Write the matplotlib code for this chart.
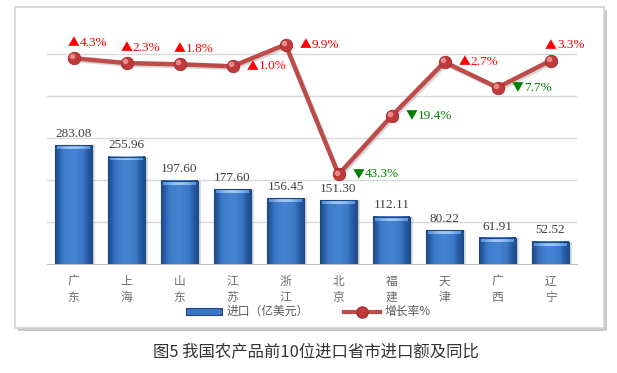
import numpy as np
import matplotlib.pyplot as plt
import matplotlib.patches as mpatches
from matplotlib.lines import Line2D
from matplotlib.colors import LinearSegmentedColormap
from matplotlib.offsetbox import TextArea, HPacker, AnnotationBbox

plt.rcParams['font.family'] = ['Noto Sans CJK SC', 'DejaVu Sans']

provinces = ['广东', '上海', '山东', '江苏', '浙江', '北京', '福建', '天津', '广西', '辽宁']
imports = [283.08, 255.96, 197.60, 177.60, 156.45, 151.30, 112.11, 80.22, 61.91, 52.52]
growth = [4.3, 2.3, 1.8, 1.0, 9.9, -43.3, -19.4, 2.7, -7.7, 3.3]
# where each growth label sits relative to its point
label_pos = ['top', 'top', 'top', 'right', 'right', 'right', 'right', 'right', 'right', 'top']

fig = plt.figure(figsize=(6.17, 3.73), dpi=100)

# outer frame with shadow
shadow = mpatches.Rectangle((0.0243 + 0.005, 0.1206 - 0.008), 0.9546, 0.8606,
                            transform=fig.transFigure, facecolor='#c8c8c8',
                            edgecolor='none', zorder=-2)
frame = mpatches.Rectangle((0.0243, 0.1206), 0.9546, 0.8606,
                           transform=fig.transFigure, facecolor='white',
                           edgecolor='#d4d4d4', lw=1.2, zorder=-1)
fig.patches.extend([shadow, frame])

ax = fig.add_axes([0.0762, 0.292, 0.859, 0.622])
ax.patch.set_alpha(0)
x = np.arange(len(provinces))
w = 0.68

# bars drawn as gradient images
grad = np.array([[0.0, 0.45, 0.8, 1.0, 0.95, 0.7, 0.35, 0.0]])
cmap = LinearSegmentedColormap.from_list('b', ['#1f4f92', '#3a77c6', '#4584d2'])
cmap_top = LinearSegmentedColormap.from_list('t', ['#5b96dd', '#9cc6f2'])
for xi, v in zip(x, imports):
    ax.bar(xi + 0.06, v, w, color='#9a9a9a', alpha=0.35, zorder=1, lw=0)
    ax.imshow(grad, cmap=cmap, aspect='auto', interpolation='bicubic',
              extent=(xi - w / 2, xi + w / 2, 0, v), zorder=2)
    ax.imshow(np.array([[0.2, 0.8, 1.0, 1.0, 0.8, 0.2]]), cmap=cmap_top,
              aspect='auto', interpolation='bicubic',
              extent=(xi - w / 2 + 0.03, xi + w / 2 - 0.03, v - 9, v), zorder=2.5)
    ax.bar(xi, v, w, facecolor='none', edgecolor='#1c467f', lw=0.8, zorder=3)
    ax.annotate(f'{v:.2f}', (xi, v), xytext=(0, 4), textcoords='offset points',
                ha='center', va='bottom', fontsize=9.5, color='#404040',
                family=['Liberation Serif', 'DejaVu Serif'])

ax.set_xlim(-0.5, len(provinces) - 0.5)
ax.set_ylim(0, 552)
ax.set_yticks(np.arange(100, 501, 100))
ax.yaxis.grid(True, color='#d9d9d9', lw=1)
ax.set_axisbelow(True)
ax.set_xticks(x)
ax.set_xticklabels(['\n'.join(p) for p in provinces], linespacing=1.3)
for s in ['top', 'right', 'left']:
    ax.spines[s].set_visible(False)
ax.spines['bottom'].set_color('#bfbfbf')

ax2 = ax.twinx()
ax2.set_ylim(-80, 15)
ax2.plot(x + 0.03, np.array(growth) - 0.8, color='#999999', lw=3, alpha=0.4, zorder=1)
ax2.plot(x, growth, color='#bd4b48', lw=3.2, marker='o', markersize=9,
         markerfacecolor='#c0393b', markeredgecolor='#a02c2e', markeredgewidth=0.6,
         zorder=3)
ax2.plot(x - 0.03, np.array(growth) + 0.8, ls='none', marker='o', markersize=3,
         color='#e88a8a', zorder=4)
for s in ax2.spines.values():
    s.set_visible(False)

ax.tick_params(axis='y', left=False, right=False, labelleft=False, labelright=False)
ax.tick_params(axis='x', length=0, pad=8, labelsize=8.5, labelcolor='#6b6b6b')
ax2.tick_params(axis='y', left=False, right=False, labelleft=False, labelright=False)

for xi, g, pos in zip(x, growth, label_pos):
    sym = '▲' if g >= 0 else '▼'
    col = 'red' if g >= 0 else 'green'
    tri = TextArea(sym, textprops=dict(color=col, size=8.5, family='Noto Sans CJK SC'))
    num = TextArea(f'{abs(g):.1f}%', textprops=dict(color=col, size=9.5,
                                                  family='Liberation Serif'))
    box = HPacker(children=[tri, num], align='center', pad=0, sep=0.5)
    if pos == 'top':
        off, align = (10, 11), (0.5, 0.5)
    else:
        off, align = (10, 0), (0.0, 0.5)
    ab = AnnotationBbox(box, (xi, g), xybox=off, xycoords='data',
                        boxcoords='offset points', box_alignment=align,
                        frameon=False, pad=0)
    ax2.add_artist(ab)

bar_handle = mpatches.Patch(facecolor='#3a77c6', edgecolor='#1c467f', lw=0.8)
line_handle = Line2D([], [], color='#bd4b48', lw=3, marker='o', markersize=8,
                     markerfacecolor='#c0393b', markeredgecolor='#a02c2e')
fig.legend([bar_handle, line_handle], ['进口（亿美元）', '增长率%'],
           loc='center', bbox_to_anchor=(0.5, 0.164), ncol=2, frameon=False,
           fontsize=8.5, labelcolor='#595959', handlelength=3, handleheight=0.5,
           columnspacing=3, handletextpad=0.4)

fig.text(0.512, 0.056, '图5 我国农产品前10位进口省市进口额及同比', ha='center', va='center',
         fontsize=11.8, color='#333333')

fig.savefig('out.png', dpi=100)
